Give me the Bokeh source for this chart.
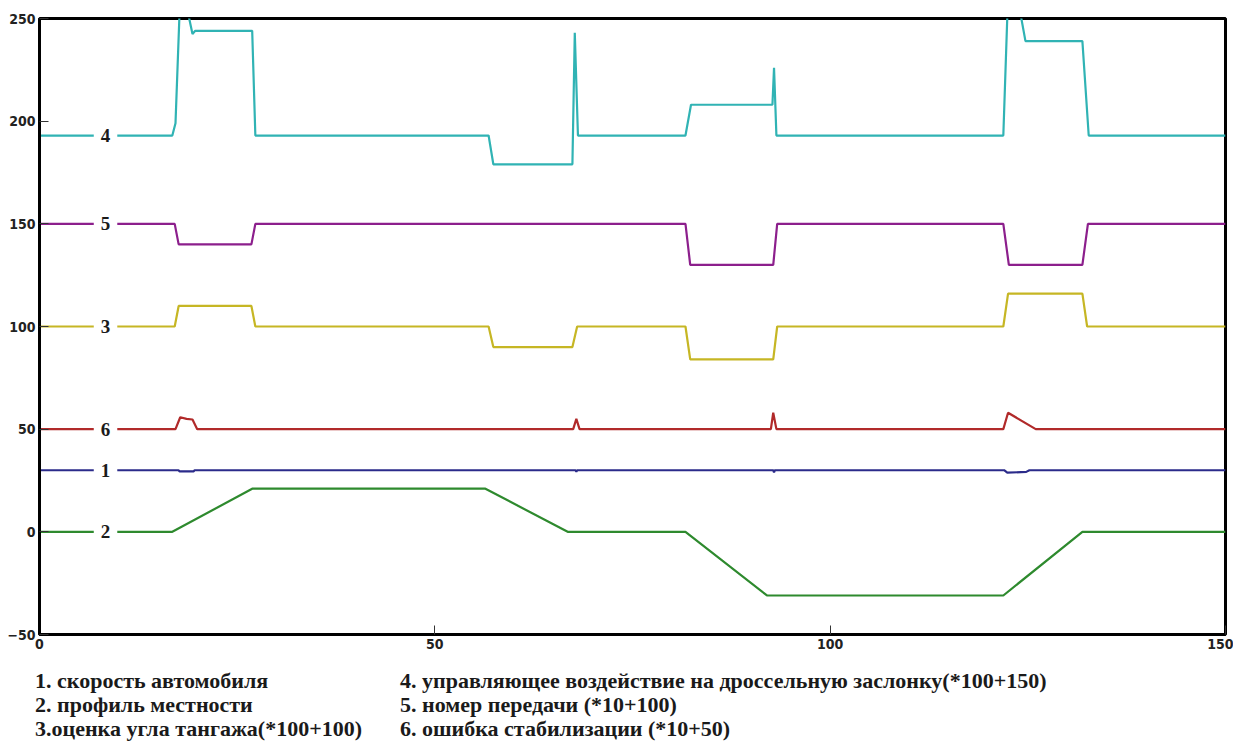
from bokeh.plotting import figure
from bokeh.models import Range1d, FixedTicker, Label, Div
from bokeh.layouts import column
from bokeh.embed import file_html
from bokeh.resources import INLINE

# ---- data ----
# 4. throttle control (*100+150)
t4 = [0, 16.8, 17.2, 17.8, 18.6, 19.35, 19.7, 26.9, 27.3, 56.8, 57.4, 67.4, 67.7, 68.1,
      81.7, 82.4, 92.7, 92.9, 93.2, 121.9, 122.5, 123.8, 124.7, 131.9, 132.7, 150]
v4 = [193, 193, 199, 262, 256, 242.5, 244, 244, 193, 193, 179, 179, 243, 193,
      193, 208, 208, 226, 193, 193, 262, 258, 239, 239, 193, 193]
# 5. gear number (*10+100)
t5 = [0, 17.1, 17.6, 26.8, 27.3, 81.7, 82.3, 92.8, 93.3, 121.9, 122.6, 131.9, 132.6, 150]
v5 = [150, 150, 140, 140, 150, 150, 130, 130, 150, 150, 130, 130, 150, 150]
# 3. pitch angle estimate (*100+100)
t3 = [0, 17.1, 17.6, 26.8, 27.3, 56.8, 57.4, 67.4, 68.0, 81.7, 82.3, 92.8, 93.3,
      121.9, 122.5, 131.9, 132.5, 150]
v3 = [100, 100, 110, 110, 100, 100, 90, 90, 100, 100, 84, 84, 100,
      100, 116, 116, 100, 100]
# 6. stabilisation error (*10+50)
t6 = [0, 17.2, 17.8, 18.6, 19.35, 19.95, 67.5, 67.9, 68.3, 92.5, 92.8, 93.2,
      121.9, 122.5, 126.0, 150]
v6 = [50, 50, 55.8, 55.0, 54.7, 50, 50, 55, 50, 50, 58, 50,
      50, 58, 50, 50]
# 1. vehicle speed
t1 = [0, 17.6, 17.7, 19.5, 19.6, 67.8, 67.9, 68.0, 92.8, 92.9, 93.0,
      122.0, 122.4, 124.8, 125.2, 150]
v1 = [30, 30, 29.4, 29.4, 30, 30, 29.2, 30, 30, 29.0, 30,
      30, 28.8, 29.2, 30, 30]
# 2. road profile
t2 = [0, 16.8, 26.9, 56.4, 66.8, 81.7, 92.0, 121.9, 131.9, 150]
v2 = [0, 0, 21, 21, 0, 0, -31, -31, 0, 0]

series = [
    ("4", t4, v4, "#30b3b4", 193),
    ("5", t5, v5, "#8c1f8c", 150),
    ("3", t3, v3, "#c6b624", 100),
    ("6", t6, v6, "#b12a2a", 50),
    ("1", t1, v1, "#2b2b8a", 30),
    ("2", t2, v2, "#2e8a2e", 0),
]

legend_left = ["1. скорость автомобиля",
               "2. профиль местности",
               "3.оценка угла тангажа(*100+100)"]
legend_right = ["4. управляющее воздействие на дроссельную заслонку(*100+150)",
                "5. номер передачи (*10+100)",
                "6. ошибка стабилизации (*10+50)"]

x_ticks = [0, 50, 100, 150]
y_ticks = [-50, 0, 50, 100, 150, 200, 250]

W = 1233
p = figure(width=W, height=662, output_backend="svg", toolbar_location=None,
           x_range=Range1d(0, 150), y_range=Range1d(-50, 250),
           min_border_left=39, min_border_right=8, min_border_top=18, min_border_bottom=28)
p.background_fill_color = "white"
p.border_fill_color = "white"
p.grid.visible = False
p.outline_line_color = "black"
p.outline_line_width = 3

for ax in (p.xaxis[0], p.yaxis[0]):
    ax.axis_line_width = 3
    ax.axis_line_color = "black"
    ax.major_tick_in = 9
    ax.major_tick_out = 0
    ax.major_tick_line_color = "#333333"
    ax.minor_tick_line_color = None
    ax.major_label_text_font = "DejaVu Sans Condensed"
    ax.major_label_text_font_size = "14px"
    ax.major_label_text_font_style = "bold"
    ax.major_label_text_color = "#222222"
    ax.major_label_standoff = 4
p.xaxis.ticker = FixedTicker(ticks=x_ticks)
p.yaxis.ticker = FixedTicker(ticks=y_ticks)

for name, t, v, col, lvl in series:
    p.line(t, v, line_color=col, line_width=2.2)
    p.add_layout(Label(x=8.35, y=lvl, text=name, text_align="center", text_baseline="middle",
                       text_font="Liberation Serif", text_font_style="bold",
                       text_font_size="19px", text_color="#1a1a1a",
                       background_fill_color="white", padding=7))

# legend block below the chart (HTML text)
span = ('<div style="position:absolute;left:{x}px;top:{y}px;white-space:nowrap;'
        'line-height:24px;">{t}</div>')
parts = []
tops = [7, 31, 55]
for i, s in enumerate(legend_left):
    parts.append(span.format(x=35, y=tops[i], t=s))
for i, s in enumerate(legend_right):
    parts.append(span.format(x=400, y=tops[i], t=s))
html = ('<div style="position:relative;width:%dpx;height:78px;font-family:\'Liberation Serif\';'
        'font-weight:bold;font-size:22px;color:#1a1a1a;">' % W) + "".join(parts) + "</div>"
d = Div(text=html, width=W, height=78, margin=0)

layout = column(p, d, spacing=0)
open("out.html", "w").write(file_html(layout, INLINE))
